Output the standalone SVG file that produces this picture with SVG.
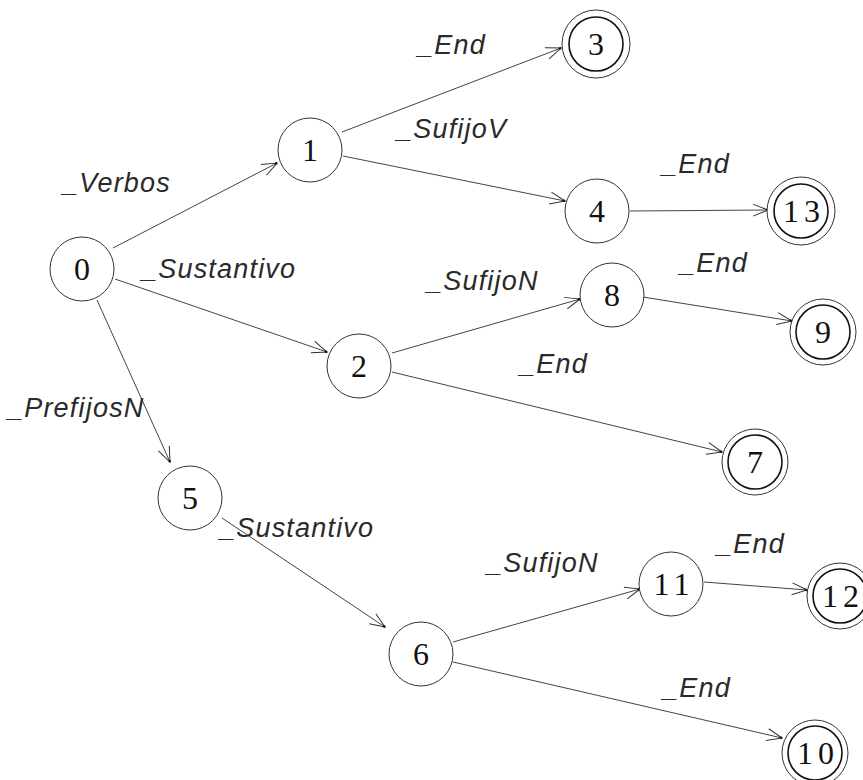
<svg xmlns="http://www.w3.org/2000/svg" width="863" height="780" viewBox="0 0 863 780">
  <defs>
    <marker id="arrow" markerUnits="userSpaceOnUse" markerWidth="20" markerHeight="16" refX="0" refY="0" viewBox="-16 -8 18 16" orient="auto" overflow="visible">
      <path d="M -15 -6 L 0 0 L -15 6" fill="none" stroke="#333" stroke-width="1"/>
      <circle cx="-1" cy="0" r="1.3" fill="#111"/>
    </marker>
  </defs>
  <style>
    .state { fill: #fff; stroke: #333; stroke-width: 1; }
    .final-inner { fill: none; stroke: #111; stroke-width: 1.6; }
    .num { font-family: "Liberation Serif", "Times New Roman", serif; font-size: 32px; fill: #111; text-anchor: middle; }
    .edge { stroke: #444; stroke-width: 1; fill: none; marker-end: url(#arrow); }
    .lbl { font-family: "Liberation Sans", Arial, sans-serif; font-style: italic; font-size: 27px; letter-spacing: 1.2px; fill: #2a2a2a; }
  </style>
  <rect width="863" height="780" fill="#fff"/>

  <!-- transitions -->
  <g id="edges">
    <line class="edge" x1="113" y1="248" x2="277" y2="163"/>
    <line class="edge" x1="115" y1="279" x2="327" y2="352"/>
    <line class="edge" x1="97" y1="300" x2="170" y2="462"/>
    <line class="edge" x1="342" y1="132" x2="561" y2="48"/>
    <line class="edge" x1="343" y1="156" x2="565" y2="201"/>
    <line class="edge" x1="630" y1="211" x2="768" y2="210"/>
    <line class="edge" x1="392" y1="353" x2="580" y2="299"/>
    <line class="edge" x1="392" y1="372" x2="722" y2="452"/>
    <line class="edge" x1="643" y1="297" x2="792" y2="321"/>
    <line class="edge" x1="222" y1="518" x2="385" y2="627"/>
    <line class="edge" x1="453" y1="642" x2="640" y2="589"/>
    <line class="edge" x1="453" y1="662" x2="782" y2="738"/>
    <line class="edge" x1="704" y1="582" x2="807" y2="590"/>

    <text class="lbl" x="63" y="192">_Verbos</text>
    <text class="lbl" x="142" y="278">_Sustantivo</text>
    <text class="lbl" x="8" y="417">_PrefijosN</text>
    <text class="lbl" x="418" y="54">_End</text>
    <text class="lbl" x="397" y="138">_SufijoV</text>
    <text class="lbl" x="662" y="173">_End</text>
    <text class="lbl" x="427" y="290">_SufijoN</text>
    <text class="lbl" x="680" y="272">_End</text>
    <text class="lbl" x="520" y="373">_End</text>
    <text class="lbl" x="220" y="537">_Sustantivo</text>
    <text class="lbl" x="487" y="572">_SufijoN</text>
    <text class="lbl" x="717" y="553">_End</text>
    <text class="lbl" x="663" y="697">_End</text>
  </g>

  <!-- ordinary states -->
  <g id="s0"><circle class="state" cx="82" cy="269" r="32"/><text class="num" x="82" y="280">0</text></g>
  <g id="s1"><circle class="state" cx="310" cy="150" r="32"/><text class="num" x="310" y="161">1</text></g>
  <g id="s4"><circle class="state" cx="597" cy="211" r="32"/><text class="num" x="597" y="222">4</text></g>
  <g id="s2"><circle class="state" cx="359" cy="366" r="32"/><text class="num" x="359" y="377">2</text></g>
  <g id="s8"><circle class="state" cx="612" cy="295" r="32"/><text class="num" x="612" y="306">8</text></g>
  <g id="s5"><circle class="state" cx="190" cy="498" r="32"/><text class="num" x="190" y="509">5</text></g>
  <g id="s6"><circle class="state" cx="421" cy="654" r="32"/><text class="num" x="421" y="665">6</text></g>
  <g id="s11"><circle class="state" cx="671" cy="584" r="32"/><text class="num" x="674" y="595" letter-spacing="5">11</text></g>

  <!-- accepting states -->
  <g id="s3"><circle class="state" cx="596" cy="44" r="34"/><circle class="final-inner" cx="596" cy="44" r="27"/><text class="num" x="596" y="55">3</text></g>
  <g id="s13"><circle class="state" cx="801" cy="211" r="34"/><circle class="final-inner" cx="801" cy="211" r="27"/><text class="num" x="804" y="222" letter-spacing="5">13</text></g>
  <g id="s9"><circle class="state" cx="823" cy="332" r="33"/><circle class="final-inner" cx="823" cy="332" r="27"/><text class="num" x="823" y="343">9</text></g>
  <g id="s7"><circle class="state" cx="755" cy="462" r="33"/><circle class="final-inner" cx="755" cy="462" r="27"/><text class="num" x="755" y="473">7</text></g>
  <g id="s12"><circle class="state" cx="840" cy="596" r="33"/><circle class="final-inner" cx="840" cy="596" r="27"/><text class="num" x="843" y="607" letter-spacing="5">12</text></g>
  <g id="s10"><circle class="state" cx="815" cy="753" r="33"/><circle class="final-inner" cx="815" cy="753" r="27"/><text class="num" x="818" y="764" letter-spacing="5">10</text></g>
</svg>
